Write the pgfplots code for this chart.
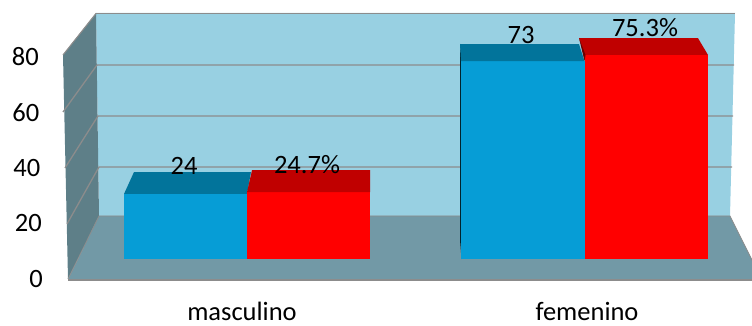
\documentclass[border=0pt]{standalone}
\usepackage{pgfplots}
\pgfplotsset{compat=1.18}
\usepackage{fontspec}
\setmainfont{Carlito}
\definecolor{wallback}{HTML}{98D0E2}
\definecolor{wallside}{HTML}{5E7F88}
\definecolor{floorc}{HTML}{7299A6}
\definecolor{gridc}{HTML}{8C8C8C}
\definecolor{blueface}{HTML}{069DD6}
\definecolor{bluetop}{HTML}{02749B}
\definecolor{redface}{HTML}{FF0000}
\definecolor{redtop}{HTML}{C00000}

% Frame geometry is given in drawing rows (py) measured from the top edge.
\pgfplotsset{
  frame/.style={table/y expr={(279-\thisrow{py})/2.78}, table/row sep=\\},
  % d=0 is the front plane of a bar, d=1 its back plane, which lies higher and is slightly foreshortened.
  solid/.style={table/y expr={\thisrow{v}*(0.9748-0.036*\thisrow{d})+7.19+8.75*\thisrow{d}}, table/row sep=\\},
}
% front face and top face of one bar: left, right, back-left, back-right, value, colours
\newcommand{\solidbar}[7]{%
  \addplot[fill=#6, draw=none, solid] table[row sep=\\] {x v d\\ #1 0 0\\ #1 #5 0\\ #2 #5 0\\ #2 0 0\\};
  \addplot[fill=#7, draw=none, solid] table[row sep=\\] {x v d\\ #1 #5 0\\ #3 #5 1\\ #4 #5 1\\ #2 #5 0\\};
}

\begin{document}
\begin{tikzpicture}
\begin{axis}[
  width=752bp, height=326bp, scale only axis,
  xmin=0, xmax=752, ymin=-16.906, ymax=100.36,
  axis line style={draw=none},
  tick style={draw=none},
  xtick={242,587}, xticklabels={masculino,femenino},
  ytick={0,20,40,60,80},
  yticklabels={0\hspace*{0bp},20\hspace*{1bp},40\hspace*{2.5bp},60\hspace*{3.5bp},80\hspace*{4bp}},
  /pgf/number format/assume math mode=true,
  tick label style={font=\fontsize{26.5bp}{30bp}\selectfont},
  xticklabel style={anchor=center, yshift=15bp, inner sep=0pt},
  yticklabel style={anchor=east, xshift=43bp, inner sep=0pt},
  axis on top=false,
]
% walls and floor
\addplot[fill=wallback, draw=none, frame] table {x py\\ 96 13\\ 735 13\\ 730 216\\ 99 216\\};
\addplot[fill=wallside, draw=none, frame] table {x py\\ 63 55\\ 96 13\\ 99 216\\ 68 279\\};
\addplot[fill=floorc, draw=none, frame] table {x py\\ 68 279.5\\ 99 216\\ 730 216\\ 762 279.5\\};
% outline of the box
\addplot[gridc, line width=1.5pt, frame] table {x py\\ 96 13.5\\ 735 13.5\\};
\addplot[gridc, line width=1.1pt, frame] table {x py\\ 63 55\\ 96 13.5\\};
\addplot[gridc, line width=0.8pt, frame] table {x py\\ 68 279\\ 99 216\\ 730 216\\ 762 280\\};
\addplot[gridc, line width=1.5pt, frame] table {x py\\ 68 280\\ 752 280\\};
% gridlines on the back wall and the side wall
\addplot[gridc, line width=1.3pt, frame] table {x py\\ 63 112\\ 97 65\\ 734 65\\};
\addplot[gridc, line width=1.3pt, frame] table {x py\\ 65 168\\ 98 116\\ 733 116\\};
\addplot[gridc, line width=1.3pt, frame] table {x py\\ 67 224\\ 99 167\\ 732 167\\};
% bars
\solidbar{124}{247}{134}{251}{24}{blueface}{bluetop}
\solidbar{247}{370}{252}{370}{24.7}{redface}{redtop}
\addplot[fill=black!70!bluetop, draw=none, frame] table {x py\\ 460 44\\ 461.5 61\\ 461.5 259\\ 460 240\\};
\solidbar{461}{584.5}{460}{579}{73}{blueface}{bluetop}
\solidbar{584.5}{708}{579}{698}{75.3}{redface}{redtop}
\addplot[fill=black!45!redtop, draw=none, frame] table {x py\\ 579 38\\ 585.5 55\\ 584.5 61\\};
% value labels
\addplot[draw=none, point meta=explicit symbolic,
  nodes near coords, nodes near coords align={center},
  nodes near coords style={font=\fontsize{26.5bp}{30bp}\selectfont, text=black, inner sep=0pt, anchor=center}]
  coordinates {(184,40.6) [24] (307,41.3) [24.7\%] (521,87.8) [73] (645,90.3) [75.3\%]};
\end{axis}
\end{tikzpicture}
\end{document}
